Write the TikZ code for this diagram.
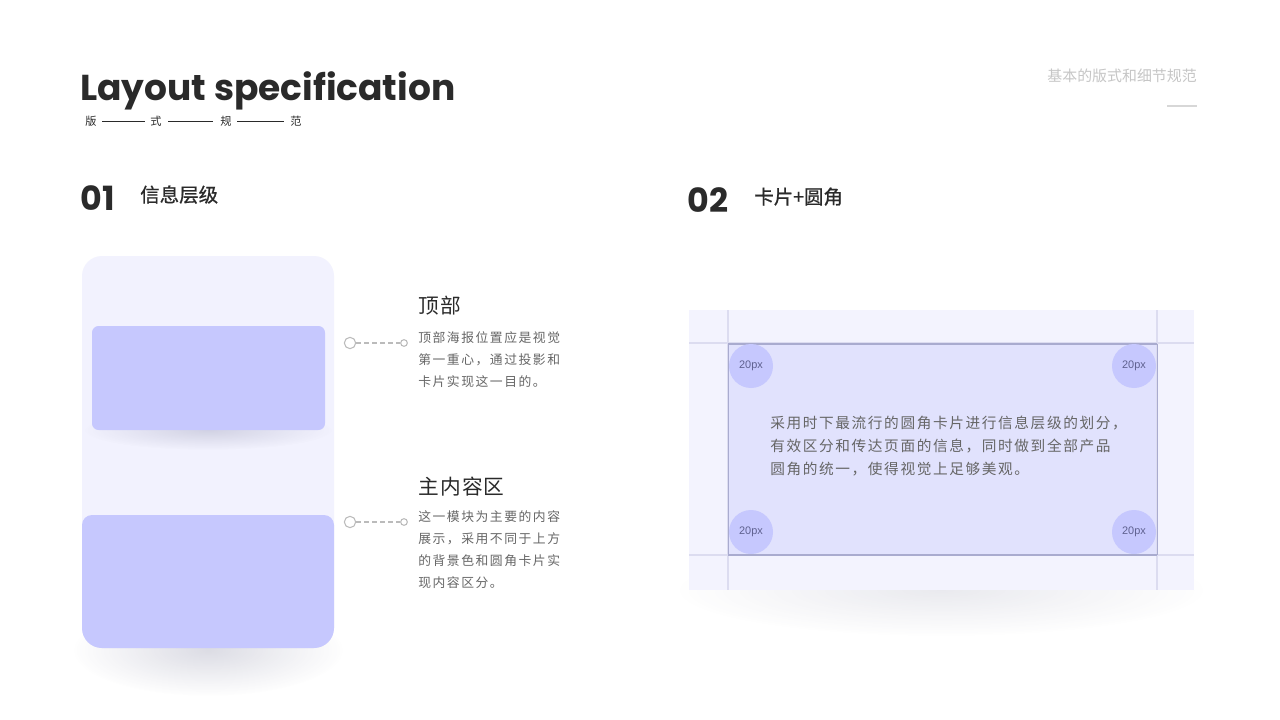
\documentclass[tikz,border=0pt]{standalone}
\usepackage{fontspec}
\usetikzlibrary{fadings}
\newfontfamily\cjk{Noto Sans CJK SC}
\newfontfamily\cjkM{Noto Sans CJK SC}[FakeBold=0.8]
\newfontfamily\cjkA{Noto Sans CJK SC}[LetterSpace=12]
\newfontfamily\cjkB{Noto Sans CJK SC}[LetterSpace=11]
\newfontfamily\cjkH{Noto Sans CJK SC}[LetterSpace=6]
\newfontfamily\titlefont{Poppins}
\newfontfamily\labfont{Liberation Sans}
\definecolor{ink}{HTML}{2A2A2A}
\definecolor{body}{HTML}{666666}
\definecolor{faint}{HTML}{C6C6C6}
\definecolor{phone}{HTML}{F2F2FE}
\definecolor{cardc}{HTML}{C6C8FE}
\definecolor{boxbg}{HTML}{F3F3FE}
\definecolor{inner}{HTML}{E1E2FD}
\definecolor{edge}{HTML}{A9ABCF}
\definecolor{guide}{HTML}{DCDCF0}
\definecolor{dotc}{HTML}{BBBBBB}
\definecolor{labc}{HTML}{5F6190}
\definecolor{shadowc}{HTML}{50527A}
\tikzfading[name=softfade, inner color=transparent!0, outer color=transparent!100]
\tikzset{
  para/.style={anchor=north west, align=left, text=body, inner sep=0pt},
  head/.style={anchor=base west, text=ink, inner sep=0pt},
  bigdot/.style={circle, draw=dotc, line width=0.8pt, fill=white, minimum size=8.5pt, inner sep=0pt},
  smalldot/.style={circle, draw=dotc, line width=0.8pt, fill=white, minimum size=5pt, inner sep=0pt},
  corner/.style={circle, fill=cardc, minimum size=33pt, inner sep=0pt, text=labc, font=\labfont\fontsize{8.2pt}{9pt}\selectfont},
  softshadow/.style={fill=shadowc, path fading=softfade},
}
\begin{document}
\begin{tikzpicture}[x=0.75pt,y=-0.75pt]
\useasboundingbox[fill=white] (0,0) rectangle (1280,720);

% ---- header
\node[head, font=\titlefont\bfseries\fontsize{27pt}{30pt}\selectfont] (title) at (80,101) {Layout specification};
\begin{scope}[font=\cjk\fontsize{8.4pt}{10pt}\selectfont, text=ink]
\node[anchor=base west, inner sep=0pt] (s1) at (85,126) {版};
\node[anchor=base west, inner sep=0pt] (s2) at (150,126) {式};
\node[anchor=base west, inner sep=0pt] (s3) at (220,126) {规};
\node[anchor=base west, inner sep=0pt] (s4) at (290,126) {范};
\end{scope}
\draw[ink, line width=0.6pt] (102,121) -- (145,121) (168,121) -- (213,121) (237,121) -- (284,121);
\node[anchor=base east, inner sep=0pt, text=faint, font=\cjk\fontsize{11.2pt}{12pt}\selectfont] (tr) at (1197,82) {基本的版式和细节规范};
\draw[faint!70, line width=0.8pt] (1167,106) -- (1197,106);

% ---- section titles
\node[head, font=\titlefont\bfseries\fontsize{25pt}{28pt}\selectfont] (n1) at (80,211) {01};
\node[head, font=\cjkM\fontsize{14.6pt}{16pt}\selectfont] (t1) at (140,202) {信息层级};
\node[head, font=\titlefont\bfseries\fontsize{25pt}{28pt}\selectfont] (n2) at (687,213) {02};
\node[head, font=\cjkM\fontsize{14.6pt}{16pt}\selectfont] (t2) at (754,204) {卡片+圆角};

% ---- left phone mockup
\fill[phone, rounded corners=15pt] (82,256) rectangle (334,648);
\fill[softshadow, opacity=0.2] (208,430) ellipse [x radius=124, y radius=20];
\fill[cardc, rounded corners=5pt] (92,326) rectangle (325,430);
\fill[softshadow, opacity=0.2] (208,650) ellipse [x radius=135, y radius=46];
\fill[cardc] [rounded corners=7.5pt] (82,580) -- (82,515) -- (334,515) -- (334,580) [rounded corners=15pt] -- (334,648) -- (82,648) -- cycle;

% ---- annotations
\node[bigdot] (c1) at (350,343) {};
\node[smalldot] (d1) at (404,343) {};
\draw[dotc, line width=0.8pt, dash pattern=on 3.5pt off 2.5pt] (c1) -- (d1);
\node[bigdot] (c2) at (350,522) {};
\node[smalldot] (d2) at (404,522) {};
\draw[dotc, line width=0.8pt, dash pattern=on 3.5pt off 2.5pt] (c2) -- (d2);

\node[head, font=\cjkH\fontsize{15.5pt}{16pt}\selectfont] (h1) at (418,313) {顶部};
\node[para, font=\cjkA\fontsize{9.6pt}{16.6pt}\selectfont] (p1) at (418,331) {顶部海报位置应是视觉\\第一重心，通过投影和\\卡片实现这一目的。};
\node[head, font=\cjkH\fontsize{15.5pt}{16pt}\selectfont] (h2) at (418,494) {主内容区};
\node[para, font=\cjkA\fontsize{9.6pt}{16.6pt}\selectfont] (p2) at (418,510) {这一模块为主要的内容\\展示，采用不同于上方\\的背景色和圆角卡片实\\现内容区分。};

% ---- right card spec
\fill[softshadow, opacity=0.12] (941,590) ellipse [x radius=265, y radius=46];
\fill[boxbg] (689,310) rectangle (1194,590);
\fill[inner] (728,344) rectangle (1157,555);
\draw[guide, line width=0.8pt] (728,310) -- (728,590) (1157,310) -- (1157,590)
  (689,343) -- (1194,343) (689,555) -- (1194,555);
\draw[edge, line width=1.2pt] (728,344) -- (1157,344) (728,555) -- (1157,555);
\draw[edge, line width=0.7pt] (728,344) -- (728,555) (1157,344) -- (1157,555);

\node[corner] (k1) at (751,366) {20px};
\node[corner] (k2) at (1134,366) {20px};
\node[corner] (k3) at (751,532) {20px};
\node[corner] (k4) at (1134,532) {20px};

\node[para, font=\cjkB\fontsize{11pt}{17pt}\selectfont] (p3) at (770,416) {采用时下最流行的圆角卡片进行信息层级的划分，\\有效区分和传达页面的信息，同时做到全部产品\\圆角的统一，使得视觉上足够美观。};
\end{tikzpicture}
\end{document}
